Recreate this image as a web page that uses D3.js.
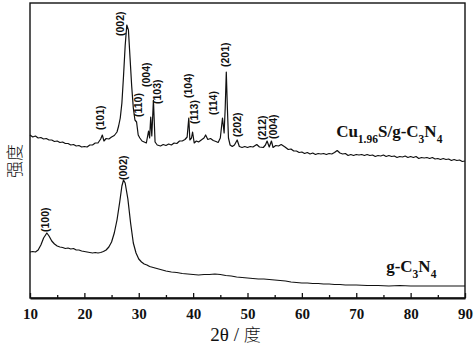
<!DOCTYPE html>
<html>
<head>
<meta charset="utf-8">
<script src="https://cdn.jsdelivr.net/npm/d3@7"></script>
<style>
    body { margin: 0; background: #fff; }
    svg { display: block; }
</style>
</head>
<body>
<div id="chart"></div>
<script>
// XRD patterns, [2theta, intensity (a.u.)]
const cuPattern = [
    [10,163],[10.5,161],[11,162],[11.5,160],[12,160.5],[12.5,159],[13,159.5],[13.5,158],[14,158],[14.5,156.5],
    [15,157],[15.5,155.5],[16,156],[16.5,154.5],[17,154.5],[17.5,153],[18,153.5],[18.5,152],[19,152.5],[19.5,151],
    [20,151.5],[20.5,151],[21,153],[21.5,153],[22,155],[22.5,155],[23,159],[23.3,163],[23.6,157],[24,159.5],
    [24.5,159],[25,161],[25.5,162.5],[26,166],[26.3,172],[26.6,180],[26.9,195],[27.2,222],[27.5,252],[27.8,273],
    [28.1,268],[28.4,240],[28.7,212],[29,190],[29.3,178],[29.6,176],[29.9,163],[30.2,160],[30.6,157],[31,156],
    [31.4,155],[31.8,167],[32,160],[32.2,181],[32.4,162],[32.7,198],[33,156],[33.4,153],[34,152],[34.5,153.5],
    [35,152.5],[35.5,154],[36,153],[36.5,155],[37,154.5],[37.5,157],[38,157],[38.5,158.5],[38.9,161],[39.2,180],
    [39.4,158],[39.7,160],[39.9,166],[40.2,155],[40.6,157],[41,156],[41.5,158],[42,160],[42.3,163],[42.7,158.5],
    [43.2,159.5],[43.7,157.5],[44.2,156.5],[44.6,155.5],[45,160],[45.4,180],[45.7,165],[45.9,190],[46.1,226],[46.3,190],
    [46.5,160],[46.8,153],[47.2,151.5],[47.6,153],[48.1,158],[48.5,151.5],[49,150.5],[49.5,151.5],[50,150.5],[50.5,151.5],
    [51,151],[51.7,153.5],[52.2,151],[52.9,150.5],[53.3,153],[53.6,157],[54,151],[54.4,157],[54.7,150.5],[55.2,152.5],
    [55.7,152],[56.2,153.5],[56.9,151],[57.5,148.5],[58,149],[58.5,147],[59,147],[59.5,145.5],[60,146],[60.5,144.5],
    [61,145.5],[61.5,144],[62,145],[62.5,143.5],[63,144.5],[63.5,144],[64,144.5],[64.5,143.5],[65,144.5],[65.5,144],
    [66,145.5],[66.5,147.5],[67,145],[67.5,144],[68,144.5],[68.5,142.5],[69,143.5],[69.5,142.5],[70,143.5],[70.5,143],
    [71,143.5],[71.5,142.5],[72,143.5],[72.5,142.5],[73,143],[73.5,141.5],[74,142.5],[74.5,142],[75,143],[75.5,141.5],
    [76,142.5],[76.5,141.5],[77,142],[77.5,140.5],[78,141.5],[78.5,141],[79,142],[79.5,140.5],[80,141.5],[80.5,140.5],
    [81,141.5],[81.5,139.5],[82,140.5],[82.5,140],[83,140.5],[83.5,139.5],[84,140.5],[84.5,139],[85,139.5],[85.5,138.5],
    [86,139.5],[86.5,138.5],[87,139],[87.5,137.5],[88,138.5],[88.5,137.5],[89,138],[89.5,136.5],[90,137]
];

const gcnPattern = [
    [10,46],[10.5,46.5],[11,46],[11.5,48],[12,53],[12.5,60],[13.1,65],[13.5,62],[14,57],[14.5,54],
    [15,52],[15.5,51],[16,50.5],[16.5,49.5],[17,50],[17.5,49],[18,49.5],[18.5,48],[19,48],[19.5,47],
    [20,46.5],[20.5,46],[21,45.5],[21.5,45],[22,45.5],[22.5,45],[23,45.5],[23.5,46.5],[24,48],[24.5,51],
    [25,56],[25.5,65],[26,78],[26.5,96],[26.9,112],[27.2,118],[27.5,115],[28,99],[28.5,75],[29,55],
    [29.5,45],[30,39],[30.5,36],[31,34],[31.5,33],[32,31.5],[33,30],[34,28.5],[35,27],[36,26],
    [37,25.5],[38,24.5],[39,24],[40,23.5],[41,23],[42,23.5],[43,23.5],[44,24],[45,23.5],[46,22.5],
    [47,22],[48,21],[49,20.5],[50,20],[51,19.5],[52,19],[53,19],[54,18.5],[55,18],[56,17.5],
    [57,17],[58,16],[59,15.5],[60,15],[61,15],[62,14.5],[63,14.5],[64,14],[65,14],[66,13.5],
    [67,13.5],[68,13],[69,13],[70,13],[72,12.5],[74,12.5],[76,12],[78,12.5],[80,12],[82,12],
    [84,12],[86,12],[88,12],[90,12]
];

// peak indices: [label, 2theta, intensity where the label starts]
const cuPeaks = [
    ["(101)", 22.9, 168], ["(002)", 26.6, 262], ["(110)", 29.9, 181], ["(004)", 31.3, 211],
    ["(103)", 33.4, 194], ["(104)", 39.1, 200], ["(113)", 40.3, 174], ["(114)", 43.8, 183],
    ["(201)", 46.0, 231], ["(202)", 48.1, 161], ["(212)", 52.7, 158], ["(004)", 54.7, 159]
];
const gcnPeaks = [["(100)", 12.8, 66], ["(002)", 27.1, 118]];

const majorTicks = [10, 20, 30, 40, 50, 60, 70, 80, 90];
const minorTicks = [15, 25, 35, 45, 55, 65, 75, 85];

const W = 474, H = 351;
const margin = { top: 3, right: 9, bottom: 53, left: 30 };
const width = W - margin.left - margin.right;
const height = H - margin.top - margin.bottom;

const svg = d3.select("#chart").append("svg")
    .attr("width", W)
    .attr("height", H);
const g = svg.append("g")
    .attr("transform", `translate(${margin.left}, ${margin.top})`);

const x = d3.scaleLinear().domain([10, 90]).range([0, width]);
const y = d3.scaleLinear().domain([0, 295]).range([height, 0]);

// frame
g.append("rect")
    .attr("width", width)
    .attr("height", height)
    .attr("fill", "none")
    .attr("stroke", "#111")
    .attr("stroke-width", 1.4);

const xAxis = g.append("g")
    .attr("transform", `translate(0, ${height})`)
    .call(d3.axisBottom(x).tickValues(majorTicks).tickSizeInner(-5).tickSizeOuter(0).tickPadding(10));
xAxis.select(".domain").attr("stroke", "#111").attr("stroke-width", 2);
xAxis.selectAll(".tick line").attr("stroke", "#111").attr("stroke-width", 1.3);
xAxis.selectAll(".tick text")
    .attr("font-family", "'Liberation Serif', 'Times New Roman', serif")
    .attr("font-weight", "bold")
    .attr("font-size", 15)
    .attr("fill", "#111");

const xMinor = g.append("g")
    .attr("transform", `translate(0, ${height})`)
    .call(d3.axisBottom(x).tickValues(minorTicks).tickSizeInner(-3).tickSizeOuter(0).tickFormat(""));
xMinor.select(".domain").remove();
xMinor.selectAll(".tick line").attr("stroke", "#111").attr("stroke-width", 1.3);

const line = d3.line().x(d => x(d[0])).y(d => y(d[1]));

for (let data of [cuPattern, gcnPattern]) {
    g.append("path")
        .datum(data)
        .attr("d", line)
        .attr("fill", "none")
        .attr("stroke", "#111")
        .attr("stroke-width", 1.2)
        .attr("stroke-linejoin", "round");
}

// peak labels, rotated
for (let [label, angle, level] of [...cuPeaks, ...gcnPeaks]) {
    g.append("text")
        .attr("transform", `translate(${x(angle)}, ${y(level)}) rotate(-90)`)
        .attr("dy", "0.35em")
        .attr("font-family", "'Liberation Sans', Arial, sans-serif")
        .attr("font-weight", "bold")
        .attr("font-size", 10.5)
        .attr("fill", "#111")
        .text(label);
}

// series names with subscripts
function seriesName(parts, angle, level) {
    let t = g.append("text")
        .attr("x", x(angle))
        .attr("y", y(level))
        .attr("font-family", "'Liberation Serif', 'Times New Roman', serif")
        .attr("font-weight", "bold")
        .attr("font-size", 17)
        .attr("fill", "#111");
    let shifted = false;
    for (let [s, sub] of parts) {
        let ts = t.append("tspan").text(s);
        if (sub) {
            ts.attr("font-size", 11.5).attr("dy", shifted ? 0 : 6);
            shifted = true;
        } else if (shifted) {
            ts.attr("dy", -6);
            shifted = false;
        }
    }
}
seriesName([["Cu"], ["1.96", true], ["S/g-C"], ["3", true], ["N"], ["4", true]], 66.3, 161);
seriesName([["g-C"], ["3", true], ["N"], ["4", true]], 75.5, 26);

// axis titles
const xTitle = svg.append("text")
    .attr("x", margin.left + width / 2 - 12)
    .attr("y", 341)
    .attr("text-anchor", "middle")
    .attr("fill", "#111");
xTitle.append("tspan")
    .attr("font-family", "'Liberation Serif', 'Times New Roman', serif")
    .attr("font-size", 19)
    .text("2θ / ");
xTitle.append("tspan")
    .attr("font-family", "'Noto Sans CJK SC', sans-serif")
    .attr("font-weight", 300)
    .attr("font-size", 17)
    .text("度");

svg.append("text")
    .attr("transform", `translate(21, ${margin.top + 158}) rotate(-90)`)
    .attr("text-anchor", "middle")
    .attr("font-family", "'Noto Sans CJK SC', sans-serif")
    .attr("font-weight", 300)
    .attr("font-size", 17)
    .attr("fill", "#111")
    .text("强度");
</script>
</body>
</html>
